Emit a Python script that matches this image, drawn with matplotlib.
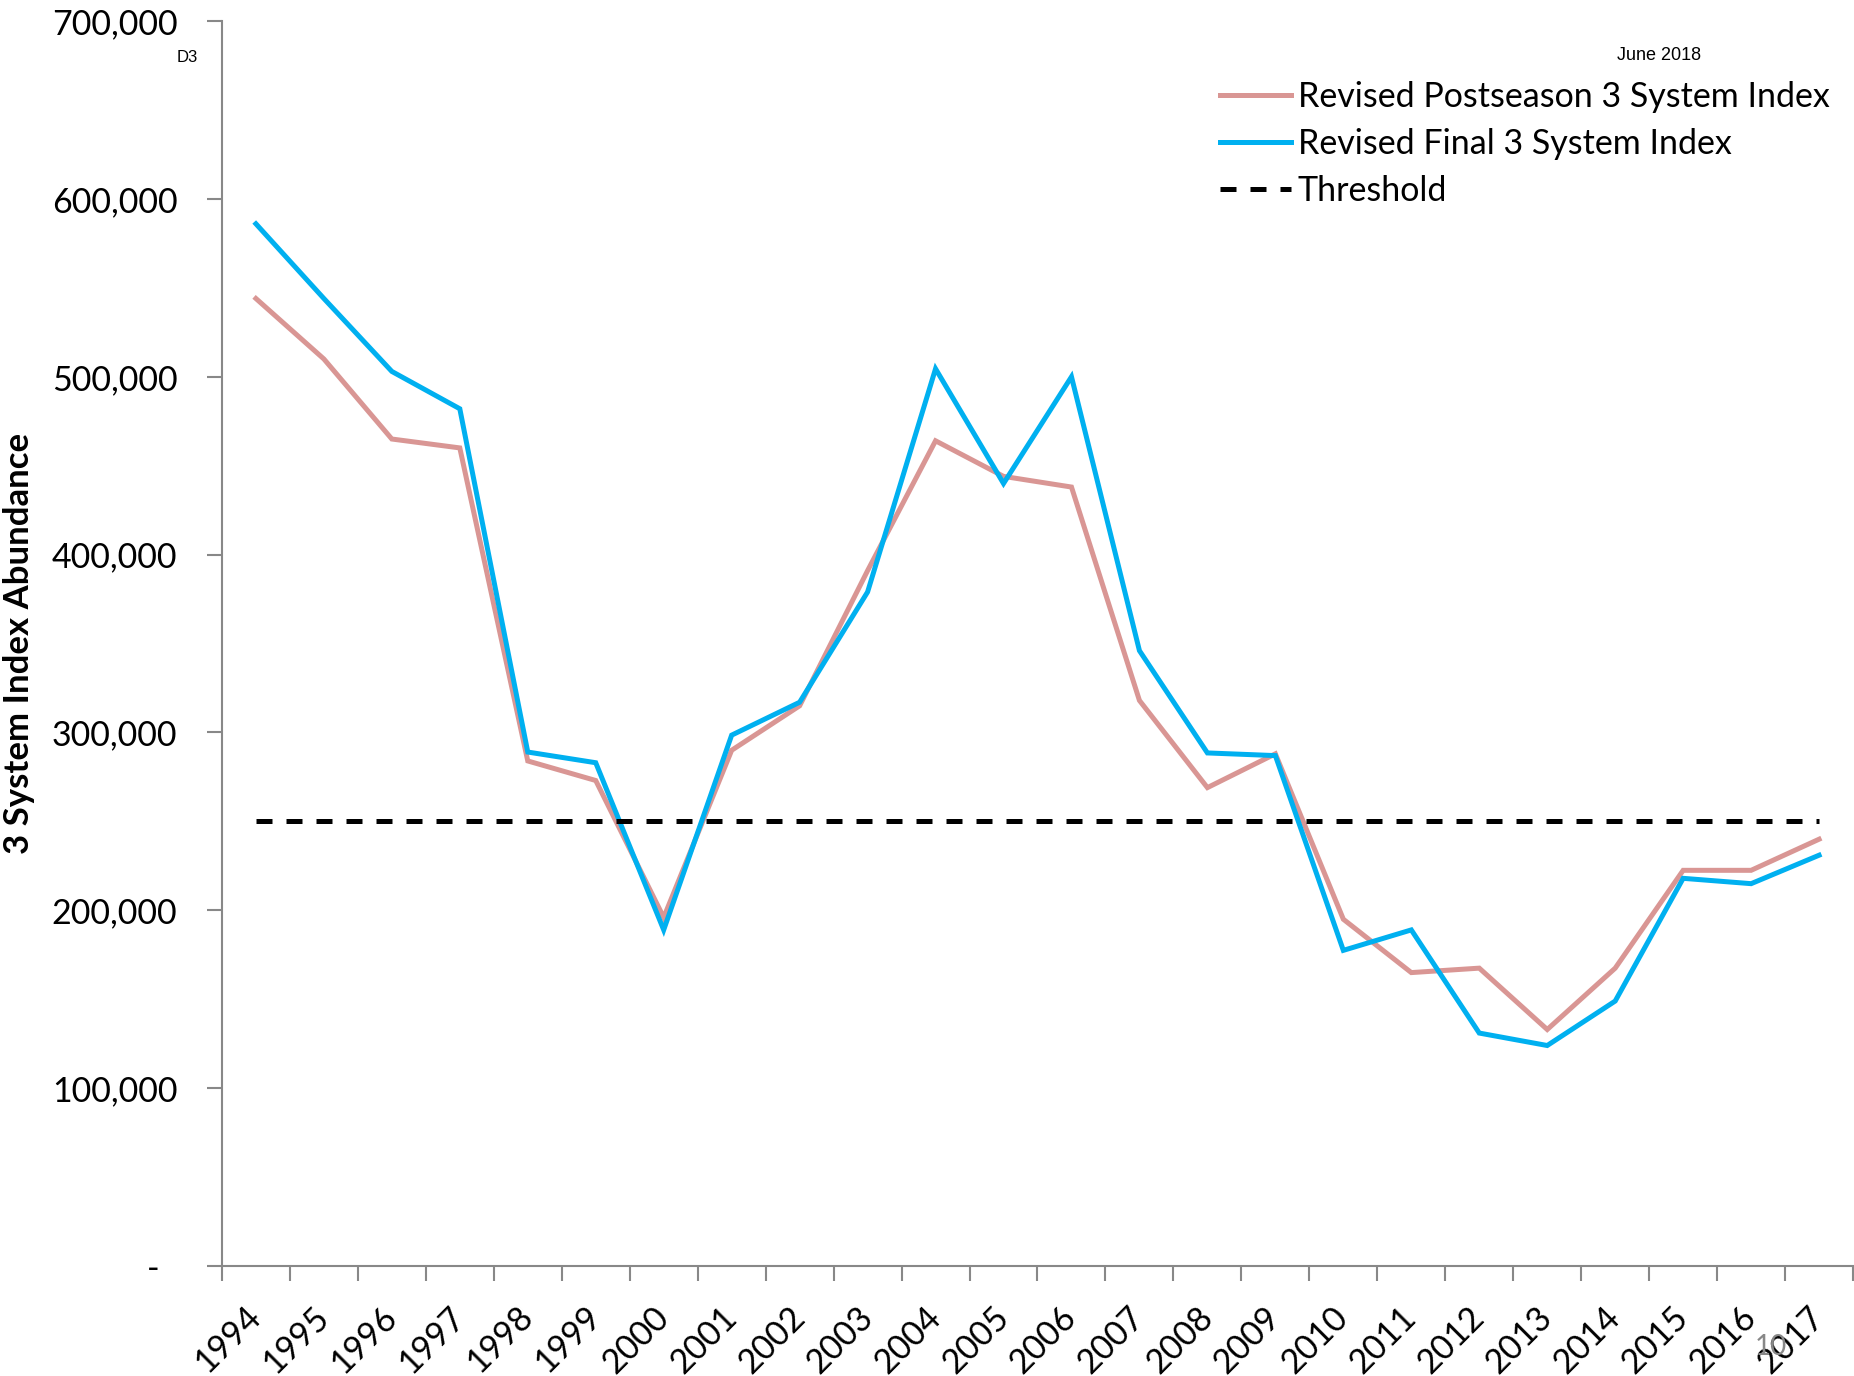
import numpy as np
import matplotlib
matplotlib.use("Agg")
import matplotlib.pyplot as plt
from matplotlib.ticker import FuncFormatter

# ~~~~~~ data ~~~~~~
years = list(range(1994, 2018))
postseason = [544000, 510000, 465000, 460000, 284000, 273000, 196000, 290000,
              315000, 391000, 464000, 444000, 438000, 318000, 269000, 288000,
              195000, 165000, 167500, 133000, 167500, 222500, 222500, 240000]
final = [586000, 544000, 503000, 482000, 289000, 283000, 189000, 298500,
         317000, 379000, 504500, 440000, 500000, 346000, 288500, 287000,
         177500, 189000, 131000, 124000, 149000, 218000, 215000, 231000]
threshold = [250000] * len(years)

plt.rcParams['font.family'] = ['Lato', 'DejaVu Sans']

fig = plt.figure(figsize=(18.54, 13.76), dpi=100)
ax = fig.add_axes([0.1197, 0.0799, 0.8798, 0.9048])

x = np.arange(len(years))
ax.plot(x, postseason, color='#D99694', lw=3.6, solid_joinstyle='miter',
        label='Revised Postseason 3 System Index')
ax.plot(x, final, color='#00B0F0', lw=3.6, solid_joinstyle='miter',
        label='Revised Final 3 System Index')
ax.plot(x, threshold, color='black', lw=3.6, dashes=(3.2, 2.8),
        label='Threshold')

ax.set_xlim(-0.5, len(years) - 0.5)
ax.set_ylim(0, 700000)

# y axis (zero shown as a dash, Excel accounting style)
ax.set_yticks(np.arange(0, 700001, 100000))
ax.yaxis.set_major_formatter(FuncFormatter(lambda v, p: '-  ' if v == 0 else f'{int(v):,}'))
ax.tick_params(axis='y', length=11, width=1.5, color='#888888', labelsize=24.5, pad=21)

# x axis: ticks between categories, labels at centers
ax.set_xticks(np.arange(-0.5, len(years), 1.0))
ax.set_xticklabels([])
ax.set_xticks(x, minor=True)
ax.set_xticklabels([str(y) for y in years], minor=True, rotation=45,
                   ha='right', va='center', rotation_mode='anchor')
ax.tick_params(axis='x', which='major', length=11, width=1.5, color='#888888')
ax.tick_params(axis='x', which='minor', length=0, labelsize=24.5, pad=33)

for side in ['top', 'right']:
    ax.spines[side].set_visible(False)
for side in ['left', 'bottom']:
    ax.spines[side].set_color('#888888')
    ax.spines[side].set_linewidth(1.5)

ax.set_ylabel('3 System Index Abundance', fontsize=25, fontweight='bold')
ax.yaxis.set_label_coords(-0.1148, 0.5)

leg = ax.legend(loc='upper left', bbox_to_anchor=(0.612, 0.952), frameon=False,
                fontsize=24.5, handlelength=2.08, handletextpad=0.2,
                labelspacing=0.44, borderpad=0, borderaxespad=0)

fig.text(187 / 1854, 1 - 57 / 1376, 'D3', fontsize=12, family='Liberation Sans',
         ha='center', va='center')
fig.text(1659 / 1854, 1 - 56 / 1376, 'June 2018', fontsize=13, family='Liberation Sans',
         ha='center', va='center')
fig.text(1771 / 1854, 1 - 1347 / 1376, '10', fontsize=20, color='#888888',
         ha='center', va='center')

fig.savefig('out.png', dpi=100)
